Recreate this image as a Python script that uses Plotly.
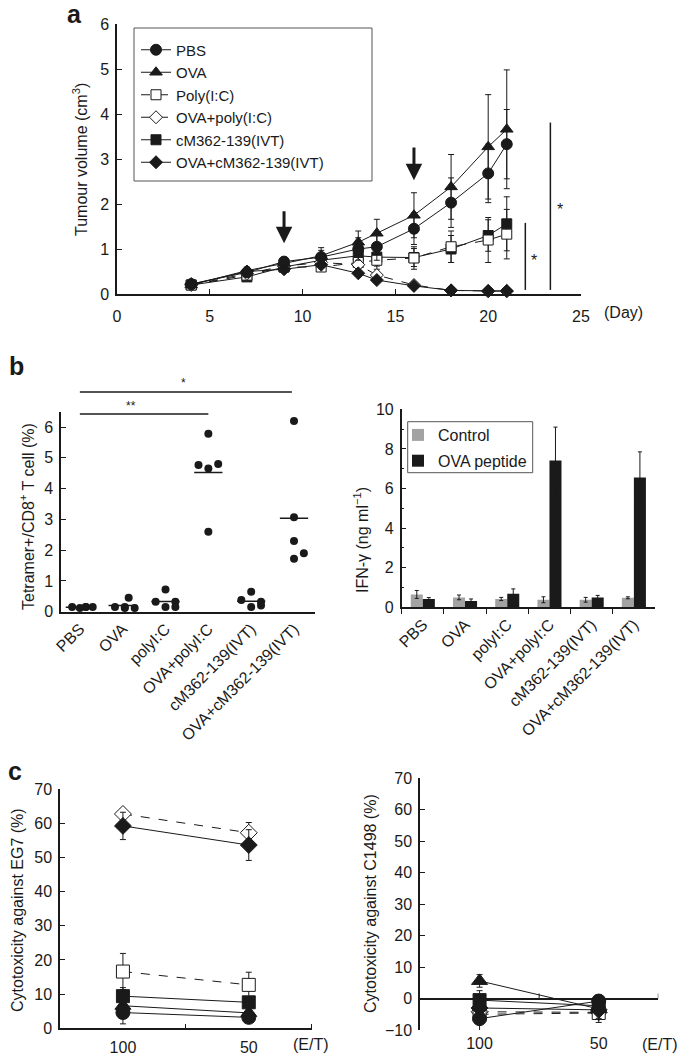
import plotly.graph_objects as go

# page body has an 8px margin; lay the figure out so it fills the 685x1055 window
OFF = 8
W, H = 685 - OFF, 1055 - OFF
FONT = "Liberation Sans, Arial, sans-serif"
INK = "#1a1a1a"

# ---------------- Panel a data ----------------
days = [4, 7, 9, 11, 13, 14, 16, 18, 20, 21]
a_names = ["PBS", "OVA", "Poly(I:C)", "OVA+poly(I:C)", "cM362-139(IVT)", "OVA+cM362-139(IVT)"]
a_pbs = [0.22, 0.48, 0.72, 0.82, 1.00, 1.05, 1.45, 2.03, 2.68, 3.33]
a_pbs_err = [0.05, 0.08, 0.10, 0.15, 0.25, 0.30, 0.35, 0.55, 0.65, 0.77]
a_ova = [0.20, 0.52, 0.68, 0.85, 1.15, 1.35, 1.75, 2.38, 3.27, 3.66]
a_ova_err = [0.05, 0.08, 0.10, 0.18, 0.25, 0.31, 0.50, 0.72, 1.16, 1.32]
a_poly = [0.20, 0.42, 0.60, 0.60, 0.70, 0.75, 0.80, 1.05, 1.20, 1.33]
a_poly_err = [0.05, 0.06, 0.08, 0.10, 0.20, 0.20, 0.25, 0.35, 0.50, 0.55]
a_ovapoly = [0.20, 0.45, 0.62, 0.70, 0.65, 0.42, 0.20, 0.08, 0.06, 0.06]
a_ovapoly_err = [0.03, 0.05, 0.06, 0.08, 0.08, 0.06, 0.04, 0.02, 0.02, 0.02]
a_cm = [0.20, 0.38, 0.60, 0.75, 0.85, 0.82, 0.81, 1.00, 1.30, 1.56]
a_cm_err = [0.04, 0.06, 0.08, 0.12, 0.20, 0.20, 0.20, 0.30, 0.35, 0.60]
a_ovacm = [0.22, 0.50, 0.55, 0.65, 0.46, 0.31, 0.18, 0.08, 0.07, 0.07]
a_ovacm_err = [0.03, 0.05, 0.06, 0.06, 0.05, 0.04, 0.03, 0.02, 0.02, 0.02]
arrow_days = [9, 16]
arrow_tops = [1.87, 3.29]
arrow_tips = [1.13, 2.53]

# ---------------- Panel b data ----------------
b_groups = ["PBS", "OVA", "polyI:C", "OVA+polyI:C", "cM362-139(IVT)", "OVA+cM362-139(IVT)"]
tet_pbs = [0.15, 0.12, 0.15, 0.15, 0.15]
tet_ova = [0.15, 0.12, 0.45, 0.12, 0.15]
tet_poly = [0.72, 0.32, 0.32, 0.15, 0.15]
tet_ovapoly = [5.78, 4.77, 4.80, 4.65, 2.60]
tet_cm = [0.65, 0.38, 0.32, 0.15, 0.20]
tet_ovacm = [6.20, 3.07, 2.30, 1.72, 1.90]
tet_jitter = [
    [-0.18, 0.0, 0.14, 0.30, 0.14],
    [-0.18, 0.05, 0.14, 0.28, 0.05],
    [0.0, -0.23, 0.23, 0.0, 0.23],
    [0.0, -0.23, 0.23, 0.0, 0.0],
    [0.0, -0.23, 0.23, 0.0, 0.23],
    [0.0, 0.0, 0.0, 0.0, 0.23],
]
ifn_control = [0.65, 0.50, 0.42, 0.38, 0.38, 0.48]
ifn_control_err = [0.20, 0.12, 0.08, 0.15, 0.12, 0.05]
ifn_ova = [0.42, 0.32, 0.68, 7.42, 0.50, 6.55]
ifn_ova_err = [0.07, 0.10, 0.25, 1.68, 0.10, 1.30]

# ---------------- Panel c data ----------------
et_labels = ["100", "50"]
eg7 = {
    "PBS": ([4.6, 3.2], [3.3, 1.0]),
    "OVA": ([6.6, 4.5], [2.5, 1.0]),
    "Poly(I:C)": ([16.6, 12.7], [5.3, 3.7]),
    "OVA+poly(I:C)": ([62.7, 57.2], [1.5, 3.0]),
    "cM362-139(IVT)": ([9.4, 7.6], [2.5, 1.5]),
    "OVA+cM362-139(IVT)": ([59.2, 53.6], [4.0, 4.5]),
}
c1498 = {
    "PBS": ([-6.4, -0.8], [4.0, 2.0]),
    "OVA": ([5.6, -3.3], [2.0, 3.0]),
    "Poly(I:C)": ([-5.0, -4.6], [2.0, 2.0]),
    "OVA+poly(I:C)": ([-4.2, -4.4], [2.0, 2.0]),
    "cM362-139(IVT)": ([-0.5, -2.3], [3.0, 2.0]),
    "OVA+cM362-139(IVT)": ([-3.0, -3.6], [2.0, 4.0]),
}

# ---------------- styles ----------------
STY = {
    "PBS": dict(symbol="circle", fill=INK, dash="solid", size=11),
    "OVA": dict(symbol="triangle-up", fill=INK, dash="solid", size=11),
    "Poly(I:C)": dict(symbol="square", fill="white", dash="dash", size=10),
    "OVA+poly(I:C)": dict(symbol="diamond", fill="white", dash="dash", size=10),
    "cM362-139(IVT)": dict(symbol="square", fill=INK, dash="solid", size=10),
    "OVA+cM362-139(IVT)": dict(symbol="diamond", fill=INK, dash="solid", size=10),
}


def px(p):
    return (p - OFF) / W


def py(p):
    return 1 - (p - OFF) / H


fig = go.Figure()

# Panel a traces
a_vals = [a_pbs, a_ova, a_poly, a_ovapoly, a_cm, a_ovacm]
a_errs = [a_pbs_err, a_ova_err, a_poly_err, a_ovapoly_err, a_cm_err, a_ovacm_err]
order = [4, 2, 3, 5, 0, 1]
for i in order:
    name = a_names[i]
    s = STY[name]
    fig.add_trace(go.Scatter(
        x=days, y=a_vals[i], name=name, mode="lines+markers", legendrank=i + 1,
        line=dict(color=INK, width=1, dash=s["dash"]),
        marker=dict(symbol=s["symbol"], size=s["size"], color=s["fill"],
                    line=dict(color=INK, width=1)),
        error_y=dict(type="data", array=a_errs[i], color=INK, thickness=1, width=3),
        xaxis="x", yaxis="y", legend="legend", cliponaxis=False,
    ))

# Panel b left: scatter of tetramer
tet_all = [tet_pbs, tet_ova, tet_poly, tet_ovapoly, tet_cm, tet_ovacm]
for gi, vals in enumerate(tet_all):
    xs = [gi + j for j in tet_jitter[gi]]
    fig.add_trace(go.Scatter(
        x=xs, y=vals, mode="markers", showlegend=False,
        marker=dict(symbol="circle", size=8, color=INK),
        xaxis="x2", yaxis="y2", cliponaxis=False,
    ))
    m = sum(vals) / len(vals)
    fig.add_trace(go.Scatter(
        x=[gi - 0.33, gi + 0.33], y=[m, m], mode="lines", showlegend=False,
        line=dict(color=INK, width=1.5), xaxis="x2", yaxis="y2",
    ))

# Panel b right: bars
fig.add_trace(go.Bar(
    x=b_groups, y=ifn_control, name="Control", legendgroup="ctrl",
    marker=dict(color="#a3a3a3", line=dict(width=0)),
    error_y=dict(type="data", array=ifn_control_err, color=INK, thickness=1, width=2),
    xaxis="x3", yaxis="y3", legend="legend2",
))
fig.add_trace(go.Bar(
    x=b_groups, y=ifn_ova, name="OVA peptide", legendgroup="ova",
    marker=dict(color=INK, line=dict(width=0)),
    error_y=dict(type="data", array=ifn_ova_err, color=INK, thickness=1, width=2),
    xaxis="x3", yaxis="y3", legend="legend2",
))

# Panel c
for data, xa, ya in [(eg7, "x4", "y4"), (c1498, "x5", "y5")]:
    for name in ["OVA+poly(I:C)", "Poly(I:C)", "OVA", "PBS", "cM362-139(IVT)", "OVA+cM362-139(IVT)"]:
        vals, errs = data[name]
        s = STY[name]
        fig.add_trace(go.Scatter(
            x=[0, 1], y=vals, mode="lines+markers", showlegend=False,
            line=dict(color=INK, width=1, dash=s["dash"]),
            marker=dict(symbol=s["symbol"], size=s["size"] + 3, color=s["fill"],
                        line=dict(color=INK, width=1)),
            error_y=dict(type="data", array=errs, color=INK, thickness=1, width=3),
            xaxis=xa, yaxis=ya, cliponaxis=False,
        ))

tickfont = dict(family=FONT, size=16, color=INK)
axis_common = dict(showline=True, linecolor=INK, linewidth=1.5, showgrid=False,
                   zeroline=False, tickfont=tickfont, tickcolor=INK, ticklen=5,
                   automargin=False)

fig.update_layout(
    template="none",
    width=W, height=H, margin=dict(l=0, r=0, t=0, b=0, pad=0, autoexpand=False),
    paper_bgcolor="white", plot_bgcolor="white",
    font=dict(family=FONT, size=16, color=INK),
    barmode="group", bargap=0.43, bargroupgap=0,
    xaxis=dict(axis_common, domain=[px(117), px(581)], range=[0, 25], dtick=5,
               ticks="inside", ticklabelstandoff=7, anchor="y"),
    yaxis=dict(axis_common, domain=[py(294), py(24)], range=[0, 6], dtick=1,
               ticks="inside", ticklabelstandoff=3, anchor="x"),
    xaxis2=dict(axis_common, domain=[px(61), px(315)], range=[-0.44, 5.49],
                tickmode="array", tickvals=list(range(6)), ticktext=b_groups,
                tickangle=-45, ticks="", anchor="y2"),
    yaxis2=dict(axis_common, domain=[py(611.7), py(411.7)], range=[0, 6.5],
                tickvals=[0, 1, 2, 3, 4, 5, 6], ticks="inside", ticklabelstandoff=3,
                anchor="x2"),
    xaxis3=dict(axis_common, domain=[px(401.7), px(655)], range=[-0.5, 5.5],
                type="category", tickangle=-45, ticks="outside", tickson="boundaries",
                anchor="y3"),
    yaxis3=dict(axis_common, domain=[py(607.3), py(409.3)], range=[0, 10], dtick=2,
                ticks="inside", ticklabelstandoff=3,
                minor=dict(dtick=1, ticks="inside", ticklen=3, tickcolor=INK),
                anchor="x3"),
    xaxis4=dict(axis_common, domain=[px(60), px(311.7)], range=[-0.5, 1.5],
                tickmode="array", tickvals=[0, 1], ticktext=et_labels, ticks="",
                ticklabelstandoff=4,
                minor=dict(tickmode="array", tickvals=[0.5, 1.5], ticks="inside",
                           ticklen=5, tickcolor=INK),
                anchor="y4"),
    yaxis4=dict(axis_common, domain=[py(1028.3), py(789)], range=[0, 70], dtick=10,
                ticks="inside", ticklabelstandoff=3, anchor="x4"),
    xaxis5=dict(axis_common, domain=[px(420), px(658.3)], range=[-0.5, 1.5],
                tickmode="array", tickvals=[0, 1], ticktext=et_labels, ticks="",
                ticklabelstandoff=2, showline=False, anchor="y5"),
    yaxis5=dict(axis_common, domain=[py(1030), py(778.3)], range=[-10, 70], dtick=10,
                ticks="inside", ticklabelstandoff=3, zeroline=True, zerolinecolor=INK,
                zerolinewidth=1.5, anchor="x5"),
    legend=dict(x=px(136), y=py(33.5), xanchor="left", yanchor="top",
                bgcolor="rgba(0,0,0,0)", borderwidth=0, itemwidth=30,
                font=dict(family=FONT, size=15, color=INK), tracegroupgap=0,
                traceorder="normal"),
    legend2=dict(x=px(398), y=py(418), xanchor="left", yanchor="top",
                 bgcolor="rgba(0,0,0,0)", borderwidth=0, itemwidth=30,
                 traceorder="grouped", tracegroupgap=2,
                 font=dict(family=FONT, size=16, color=INK)),
)

shapes = []
annots = []
# Legend boxes
shapes.append(dict(type="rect", xref="paper", yref="paper", x0=px(134), x1=px(372),
                   y0=py(181), y1=py(28), line=dict(color="#555", width=1)))
shapes.append(dict(type="rect", xref="paper", yref="paper", x0=px(407.7), x1=px(532.7),
                   y0=py(472.7), y1=py(421.7), line=dict(color="#555", width=1)))
# Panel a arrows
for d, t0, t1 in zip(arrow_days, arrow_tops, arrow_tips):
    annots.append(dict(x=d, y=t1, ax=d, ay=t0, xref="x", yref="y", axref="x", ayref="y",
                       showarrow=True, arrowhead=2, arrowsize=1.1, arrowwidth=3,
                       arrowcolor=INK, text=""))
# Panel a significance
shapes.append(dict(type="line", xref="x", yref="y", x0=22.0, x1=22.0, y0=0.09, y1=1.58,
                   line=dict(color=INK, width=1.5)))
shapes.append(dict(type="line", xref="x", yref="y", x0=23.35, x1=23.35, y0=0.09, y1=3.81,
                   line=dict(color=INK, width=1.5)))
annots.append(dict(x=22.45, y=0.75, xref="x", yref="y", text="*", showarrow=False,
                   xanchor="center", yanchor="middle", font=dict(size=16, color=INK)))
annots.append(dict(x=23.85, y=1.88, xref="x", yref="y", text="*", showarrow=False,
                   xanchor="center", yanchor="middle", font=dict(size=16, color=INK)))
# Panel b significance lines
shapes.append(dict(type="line", xref="x2", yref="paper", x0=0, x1=3, y0=py(414), y1=py(414),
                   line=dict(color=INK, width=1.5)))
shapes.append(dict(type="line", xref="x2", yref="paper", x0=0, x1=4.95, y0=py(392), y1=py(392),
                   line=dict(color=INK, width=1.5)))
annots.append(dict(x=1.2, y=py(406), xref="x2", yref="paper", text="**", showarrow=False,
                   xanchor="center", yanchor="middle", font=dict(size=12, color=INK)))
annots.append(dict(x=2.43, y=py(383), xref="x2", yref="paper", text="*", showarrow=False,
                   xanchor="center", yanchor="middle", font=dict(size=12, color=INK)))
# Panel c right small ticks on zero line
for xv in [0.5, 1.5]:
    shapes.append(dict(type="line", xref="x5", yref="y5", x0=xv, x1=xv, y0=0, y1=1.6,
                       line=dict(color=INK, width=1)))

# Panel labels
for t, x, y in [("a", 74, 14), ("b", 16, 366), ("c", 15, 771)]:
    annots.append(dict(x=px(x), y=py(y), xref="paper", yref="paper", text=f"<b>{t}</b>",
                       showarrow=False, xanchor="center", yanchor="middle",
                       font=dict(size=25, color=INK)))
# Axis titles
for t, x, y in [
    ("Tumour volume (cm<sup>3</sup>)", 80, 160),
    ("Tetramer+/CD8<sup>+</sup> T cell (%)", 27, 517),
    ("IFN-γ (ng ml<sup>−1</sup>)", 361, 540),
    ("Cytotoxicity against EG7 (%)", 17, 910),
    ("Cytotoxicity against C1498 (%)", 370, 904),
]:
    annots.append(dict(x=px(x), y=py(y), xref="paper", yref="paper", text=t, textangle=-90,
                       showarrow=False, xanchor="center", yanchor="middle",
                       font=dict(size=16, color=INK)))
for t, x, y in [("(Day)", 623, 313), ("(E/T)", 311, 1044), ("(E/T)", 660, 1044)]:
    annots.append(dict(x=px(x), y=py(y), xref="paper", yref="paper", text=t,
                       showarrow=False, xanchor="center", yanchor="middle",
                       font=dict(size=16, color=INK)))

fig.update_layout(shapes=shapes, annotations=annots)
fig.write_html("out.html")
